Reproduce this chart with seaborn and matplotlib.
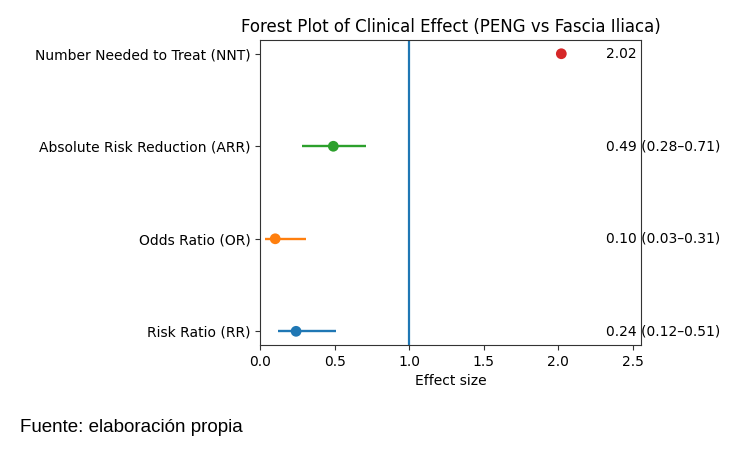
import numpy as np
import pandas as pd
import seaborn as sns
import matplotlib.pyplot as plt

# datos del forest plot (de abajo hacia arriba)
measures = ['Risk Ratio (RR)', 'Odds Ratio (OR)', 'Absolute Risk Reduction (ARR)', 'Number Needed to Treat (NNT)']
estimates = [0.24, 0.10, 0.49, 2.02]
ci_low = [0.12, 0.03, 0.28, np.nan]
ci_high = [0.51, 0.31, 0.71, np.nan]
labels = ['0.24 (0.12–0.51)', '0.10 (0.03–0.31)', '0.49 (0.28–0.71)', '2.02']

df = pd.DataFrame({'measure': measures, 'est': estimates, 'lo': ci_low, 'hi': ci_high,
                   'label': labels, 'pos': range(len(measures))})

sns.set_style('ticks', {'axes.edgecolor': '.2', 'xtick.color': '.2', 'ytick.color': '.2',
                        'text.color': 'black', 'axes.labelcolor': 'black'})
plt.rcParams['font.family'] = ['DejaVu Sans']
plt.rcParams['font.size'] = 10
plt.rcParams['xtick.labelcolor'] = 'black'
plt.rcParams['ytick.labelcolor'] = 'black'

fig = plt.figure(figsize=(7.48, 4.69), dpi=100)
ax = fig.add_axes([0.348, 0.264, 0.509, 0.651])

colors = sns.color_palette('tab10', 4)
ci = df.dropna()
ax.hlines(ci['pos'], ci['lo'], ci['hi'], colors=[colors[i] for i in ci['pos']], linewidth=1.7)
sns.scatterplot(data=df, x='est', y='pos', hue='measure', palette=colors, s=60,
                edgecolor='none', legend=False, ax=ax, zorder=3)

ax.axvline(1, color='C0', linewidth=1.6)

for _, r in df.iterrows():
    ax.text(2.32, r['pos'], r['label'], ha='left', va='center', fontsize=10)

ax.set_yticks(df['pos'])
ax.set_yticklabels(df['measure'])
ax.set_ylim(-0.15, 3.15)
ax.set_xlim(0, 2.555)
ax.set_xlabel('Effect size')
ax.set_ylabel('')
ax.set_title('Forest Plot of Clinical Effect (PENG vs Fascia Iliaca)', fontsize=12)

fig.text(0.027, 1 - 432 / 469, 'Fuente: elaboración propia', family='Liberation Sans',
         fontsize=13.5, va='baseline', ha='left')

fig.savefig('out.png', dpi=100)
